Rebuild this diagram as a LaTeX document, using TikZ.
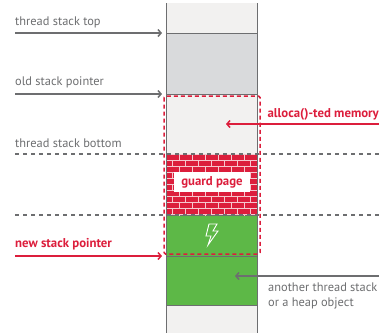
\documentclass[tikz,border=0pt]{standalone}
\usepackage{fontspec}
\setmainfont{PT Sans}
\usetikzlibrary{arrows.meta}

\definecolor{memred}{HTML}{DC1E3C}
\definecolor{memgreen}{HTML}{5DB847}
\definecolor{memgray}{HTML}{6D6E70}
\definecolor{pagelight}{HTML}{F2F1F0}
\definecolor{pagedark}{HTML}{D9DADC}

\tikzset{
	lbl/.style={inner sep=0pt, text=memgray, font=\fontsize{12.4}{15}\selectfont},
	redlbl/.style={lbl, text=memred, font=\fontsize{12.8}{15}\selectfont\bfseries},
	ptr/.style={draw=memgray, line width=1.5pt, -{Straight Barb[length=3pt,width=7pt]}},
	redptr/.style={ptr, draw=memred},
	boundary/.style={draw=memgray, line width=1.2pt, dash pattern=on 4pt off 4pt},
	page/.style={draw=memgray, line width=0.8pt},
}

\begin{document}
\begin{tikzpicture}[x=1pt, y=-1pt]
	\useasboundingbox (0,0) rectangle (379,333);

	% stack column
	\fill[pagelight] (166,3) rectangle (257,333);
	\filldraw[page, fill=pagedark] (166,33) rectangle (257,94);
	\filldraw[page, fill=memgreen] (166,215) rectangle (257,305);
	\draw[page] (166,256) -- (257,256);

	% guard page bricks
	\fill[memred] (166,154) rectangle (257,215);
	\begin{scope}
		\clip (166,154) rectangle (257,215);
		\foreach \r in {0,...,10} {
			\draw[white!75!memred, line width=0.8pt] (166,154+6*\r) -- (257,154+6*\r);
			\pgfmathsetmacro{\off}{mod(\r,2)*6.5}
			\foreach \c in {0,...,7}
				\draw[white!75!memred, line width=0.8pt] (166+\off+13*\c,154+6*\r) -- ++(0,6);
		}
	\end{scope}
	\node[fill=white, minimum width=76pt, minimum height=20pt, inner sep=0pt,
		text=memred, font=\fontsize{12.8}{15}\selectfont\bfseries] (guard) at (212,182) {guard page};

	% lightning bolt
	\draw[white, line width=0.9pt, line join=miter]
		(209,224) -- (217,224) -- (213,231) -- (218,231) -- (208,245)
		-- (211,236) -- (206,236) -- cycle;

	% column sides
	\draw[page] (166,3) -- (166,333);
	\draw[page] (257,3) -- (257,333);

	% stack bottom and guard page limits
	\draw[boundary] (15,154) -- (379,154);
	\draw[boundary] (15,215) -- (379,215);

	% region given by alloca()
	\draw[memred, line width=1.5pt, dash pattern=on 4pt off 3pt, rounded corners=1.5pt]
		(164,96) rectangle (260,254);

	% pointers on the left
	\coordinate (toptip) at (162,33);
	\coordinate (oldtip) at (162,94);
	\coordinate (newtip) at (162,256);
	\node[lbl, anchor=base west] (toplbl) at (15,25) {thread stack top};
	\node[lbl, anchor=base west] (oldlbl) at (15,85) {old stack pointer};
	\node[lbl, anchor=base west] (botlbl) at (15,147) {thread stack bottom};
	\node[redlbl, anchor=base west] (newlbl) at (15,247) {new stack pointer};
	\draw[ptr] (toplbl.base west |- toptip) -- (toptip);
	\draw[ptr] (oldlbl.base west |- oldtip) -- (oldtip);
	\draw[redptr] (newlbl.base west |- newtip) -- (newtip);

	% pointers on the right
	\coordinate (allocfrom) at (379,124);
	\coordinate (alloctip) at (226,124);
	\coordinate (heapfrom) at (379,276);
	\coordinate (heaptip) at (235,276);
	\node[redlbl, anchor=base east] (alloclbl) at (379,117) {alloca()-ted memory};
	\node[lbl, anchor=base west, align=left] (heaplbl) at (268,306)
		{another thread stack\\or a heap object};
	\draw[redptr] (allocfrom) -- (alloctip);
	\draw[ptr] (heapfrom) -- (heaptip);
\end{tikzpicture}
\end{document}
